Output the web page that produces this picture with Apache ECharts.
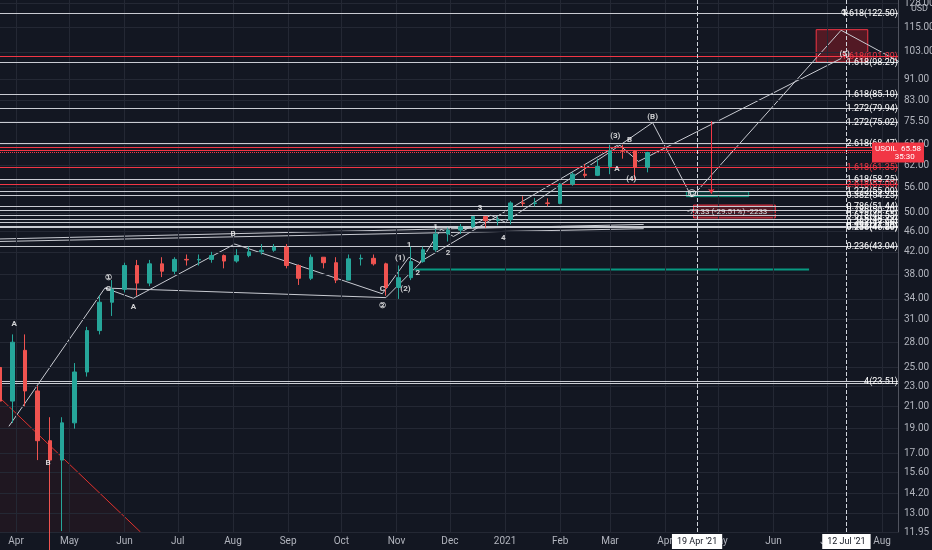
<!DOCTYPE html>
<html><head><meta charset="utf-8">
<script src="https://cdn.jsdelivr.net/npm/echarts@6/dist/echarts.min.js"></script>
<style>html,body{margin:0;background:#131722}#c{width:932px;height:550px}</style></head>
<body><div id="c"></div>
<script>
// weekly candles: [date, open, close, low, high]
const candles = [
["2020-03-23",25,21.5,20,27],["2020-03-30",21.5,28,19.5,29],["2020-04-06",27,22.5,21,29],["2020-04-13",22.5,18,16.5,23],
["2020-04-20",18,16.5,8,20],["2020-04-27",16.5,19.5,12,20],["2020-05-04",19.5,24.5,19,25.5],["2020-05-11",24.5,29.5,24,30],
["2020-05-18",29.5,33.5,29,34.5],["2020-05-25",33.5,35.5,31.5,37],["2020-06-01",35.5,39.5,35,40],["2020-06-08",39.5,36.5,34.5,40.5],
["2020-06-15",36.5,39.8,36,40.5],["2020-06-22",39.8,38.5,37.5,41],["2020-06-29",38.5,40.6,38,41],["2020-07-06",40.6,40.5,39.5,41.5],
["2020-07-13",40.5,40.6,39.5,41.5],["2020-07-20",40.6,41.3,40,42],["2020-07-27",41.3,40.3,39,41.5],["2020-08-03",40.3,41.3,40,42.5],
["2020-08-10",41.3,42,41,43],["2020-08-17",42,42.3,41.5,43.5],["2020-08-24",42.3,42.9,42,43.5],["2020-08-31",42.9,39.5,39,43.5],
["2020-09-07",39.5,37.3,36.2,39.7],["2020-09-14",37.3,41,37,41.5],["2020-09-21",41,40,39,41],["2020-09-28",40,37,36.5,41],
["2020-10-05",37,40.7,37,41.5],["2020-10-12",40.7,40.8,39.5,41.5],["2020-10-19",40.8,39.8,39.5,41.5],["2020-10-26",39.8,35.8,34.5,40],
["2020-11-02",35.8,37.4,34,39.5],["2020-11-09",37.4,40.2,37,43],["2020-11-16",40.2,42.4,40,43],["2020-11-23",42.4,45.5,42,46.5],
["2020-11-30",45.5,46.3,44,46.8],["2020-12-07",46.3,47,45.5,47.6],["2020-12-14",47,49.2,46.7,49.2],["2020-12-21",49.2,48.3,46.8,49],
["2020-12-28",48.3,48.5,47.3,49.2],["2021-01-04",48.5,52.3,47.5,52.7],["2021-01-11",52.3,52.2,51.5,53.9],["2021-01-18",52.2,52.3,51.5,53.5],
["2021-01-25",52.3,52.2,51.5,53.4],["2021-02-01",52.2,56.9,52,57.2],["2021-02-08",56.9,59.5,56.5,60],["2021-02-15",59.5,59.2,58.6,62.3],
["2021-02-22",59.2,61.6,59,63.8],["2021-03-01",61.6,66.1,59.5,67.9],["2021-03-08",66.1,66,63.8,67.9],["2021-03-15",66,61.4,58,66.3],
["2021-03-22",61.4,65.58,60,65.8]];
const priceTicks = [11.95,13,14.2,15.6,17,19,21,23,25,28,31,34,38,42,46,50,56,62,68,75.5,83,91,103,115,128];
const months = [["2020-04-01","Apr"],["2020-05-01","May"],["2020-06-01","Jun"],["2020-07-01","Jul"],["2020-08-01","Aug"],["2020-09-01","Sep"],["2020-10-01","Oct"],["2020-11-01","Nov"],["2020-12-01","Dec"],["2021-01-01","2021"],["2021-02-01","Feb"],["2021-03-01","Mar"],["2021-04-01","Apr"],["2021-05-01","May"],["2021-06-01","Jun"],["2021-07-01","Jul"],["2021-08-01","Aug"]];
// fib levels: [value, label, colour]
const fibLevels = [[122.5,"1.618(122.50)","w"],[101.09,"1.618(101.09)","r"],[98.29,"1.618(98.29)","w"],[85.10,"1.618(85.10)","w"],
[79.94,"1.272(79.94)","w"],[75.02,"1.272(75.02)","w"],[68.47,"2.618(68.47)","w"],[67.2,"","r"],[66.3,"0.886","r"],[61.35,"1.618(61.35)","r"],
[58.25,"1.618(58.25)","w"],[57.0,"2.618(57.00)","r"],[55.09,"1.272(55.09)","w"],[54.25,"0.382(54.25)","w"],[51.44,"0.786(51.44)","w"],
[50.7,"0.786(50.70)","w"],[49.55,"0.618(49.55)","w"],[48.72,"0.5(48.72)","w"],[47.9,"0.382(47.90)","w"],[47.2,"0.382(47.20)","w"],
[46.8,"0.236(46.80)","w"],[43.04,"0.236(43.04)","w"],[23.51,"4(23.51)","w"],[23.3,"","w"]];
const waveMain = [["2020-03-28",19.2],["2020-05-21",35.7],["2020-06-06",34.1],["2020-08-02",43.5],["2020-10-24",34.8],["2020-11-08",41],["2020-11-14",40],["2020-11-26",46.5],["2020-12-03",45],["2020-12-24",49.5],["2021-01-01",48],["2021-03-04",66.8],["2021-03-25",75],["2021-04-16",53.7],["2021-07-09",113.5],["2021-08-12",98]];
const waveB = [["2020-05-21",35.7],["2020-10-26",34.2],["2020-11-16",40.5],["2021-03-06",68],["2021-03-17",63],["2021-07-09",100]];
const flatLines = [[["2020-03-23",44.5],["2021-03-20",47.5]],[["2020-03-23",44.0],["2021-03-20",46.6]]];
const greenLine = [["2020-11-11",38.8],["2021-06-21",38.8]];
const redTrend = [["2020-03-23",21.8],["2020-06-10",11.95]];
const waveLabels = [["2020-03-31",30.4,"A"],["2020-04-19",16.3,"B"],["2020-05-23",37.4,"①"],["2020-05-23",35.6,"C"],["2020-06-06",32.8,"A"],
["2020-08-01",45.6,"B"],["2020-10-24",35.6,"C"],["2020-10-24",33.0,"②"],["2020-11-03",40.9,"(1)"],["2020-11-06",35.5,"(2)"],
["2020-11-08",43.4,"1"],["2020-11-13",38.2,"2"],["2020-11-23",46.9,"1"],["2020-11-30",41.8,"2"],["2020-12-18",51.2,"3"],["2020-12-31",44.7,"4"],
["2021-03-04",70.6,"(3)"],["2021-03-05",60.8,"A"],["2021-03-12",69.3,"B"],["2021-03-13",58.3,"(4)"],["2021-03-25",77,"(B)"],
["2021-04-16",54.4,"Ⓒ"],["2021-07-11",102,"(5)"],["2021-07-11",122.5,"③"]];
const vLines = [["2021-04-19","19 Apr '21"],["2021-07-12","12 Jul '21"]];
const lastPrice = 65.58;

const W='#d1d4dc', R='#f23645', GRID='#242834';
const mk = (data, color, w) => ({type:'line', data, symbol:'none', lineStyle:{color, width:w||1}, silent:true, z:4});
const chart = echarts.init(document.getElementById('c'));
chart.setOption({
  backgroundColor:'#131722', animation:false,
  grid:{left:0, right:34, top:0, bottom:18},
  xAxis:{type:'time', min:'2020-03-23', max:'2021-08-10', axisLabel:{show:false}, axisTick:{show:false}, axisLine:{show:false}, splitLine:{show:false}},
  yAxis:{type:'log', logBase:Math.E, min:11.95, max:130, position:'right', axisLabel:{show:false}, axisTick:{show:false},
    axisLine:{show:true, lineStyle:{color:'#50535e'}}, splitLine:{show:false}},
  series:[
    {type:'line', data:[], markLine:{symbol:'none', silent:true, animation:false,
      lineStyle:{color:GRID, type:'solid', width:1},
      data: priceTicks.map(v=>({yAxis:v, label:{show:true, position:'end', distance:6, color:'#b2b5be', fontSize:10, fontFamily:'Roboto', formatter:v.toFixed(2)}}))
        .concat(months.map(m=>({xAxis:m[0], label:{show:true, position:'start', distance:4, color:'#b2b5be', fontSize:10, fontFamily:'Roboto', formatter:m[1]}})))}},
    {type:'line', data:[], z:3, markLine:{symbol:'none', silent:true, animation:false,
      data: fibLevels.map(f=>({yAxis:f[0], lineStyle:{color:f[2]==='r'?R:'#c9cbd2', width:1.2, type:'solid'},
        label:{show:!!f[1], position:'insideEndTop', distance:[0,-5], color:f[2]==='r'?R:'#ffffff', fontSize:9, fontFamily:'Roboto', formatter:f[1]}}))}},
    {type:'line', data:redTrend, symbol:'none', lineStyle:{color:'#e0332f', width:1}, areaStyle:{color:'rgba(120,20,30,0.18)'}, z:4},
    {type:'candlestick', data:candles.map(c=>[c[0],c[1],c[2],c[3],c[4]]), barWidth:4, z:5,
      itemStyle:{color:'#26a69a', color0:'#ef5350', borderColor:'#26a69a', borderColor0:'#ef5350'}},
    mk(waveMain,'#c9cbd2'), mk(waveB,'#c9cbd2'), mk(flatLines[0],'#c9cbd2'), mk(flatLines[1],'#c9cbd2'),
    mk(greenLine,'#089981',2),
    {type:'line', data:[], markArea:{silent:true, itemStyle:{color:'rgba(200,30,40,0.35)', borderColor:R, borderWidth:1},
      data:[[{xAxis:'2021-06-25', yAxis:113.8},{xAxis:'2021-07-24', yAxis:98.4}],
            [{xAxis:'2021-04-13', yAxis:55.0},{xAxis:'2021-05-18', yAxis:53.8, itemStyle:{color:'rgba(8,153,129,0.2)', borderColor:'#089981'}}],
            [{xAxis:'2021-04-17', yAxis:51.8},{xAxis:'2021-06-02', yAxis:48.9, itemStyle:{color:'rgba(200,30,40,0.35)', borderColor:R}}]]},
      markLine:{symbol:'none', silent:true, data:[
        ...vLines.map(v=>({xAxis:v[0], lineStyle:{color:'#d1d4dc', type:'dashed', width:1},
          label:{show:true, position:'start', distance:2, formatter:v[1], color:'#131722', backgroundColor:'#ffffff', padding:[3,5], fontSize:9, fontFamily:'Roboto'}})),
        [{coord:['2021-04-27',75.5], symbol:'none', lineStyle:{color:R, width:1, type:'solid'}},{coord:['2021-04-27',54.5], symbol:'arrow', symbolSize:5}],
        {yAxis:lastPrice, lineStyle:{color:R, type:'dotted', width:1},
          label:{show:true, position:'end', distance:-26, formatter:'USOIL  65.58\n          35:30', color:'#fff', backgroundColor:R, padding:[2,3], fontSize:8, fontFamily:'Roboto'}}]}},
    {type:'scatter', data:waveLabels, symbolSize:0, z:6,
      label:{show:true, position:'inside', color:'#ffffff', fontSize:8, fontWeight:'bold', fontFamily:'Roboto', formatter:p=>p.data[2]}},
    {type:'scatter', data:[['2021-05-06',50.3,'-77.33 (-29.51%) -2233']], symbolSize:0, z:6,
      label:{show:true, position:'inside', color:'#ffffff', fontSize:8, fontFamily:'Roboto', formatter:p=>p.data[2]}}
  ],
  graphic:[{type:'text', right:4, top:4, style:{text:'USD', fill:'#b2b5be', font:'9px Roboto'}}]
});
</script></body></html>
